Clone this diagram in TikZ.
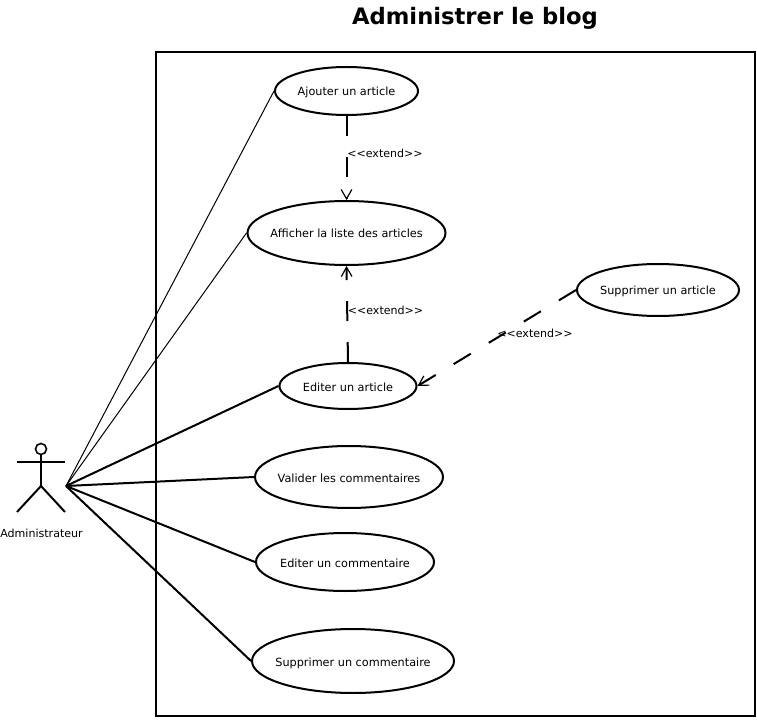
\documentclass[tikz,border=0pt]{standalone}
\usepackage{fontspec}
\setmainfont{DejaVu Sans}
\usetikzlibrary{shapes, arrows.meta, positioning}
\tikzset{
  usecase/.style 2 args={draw, ellipse, line width=1.5pt, inner sep=-10pt, minimum width=#1*0.75pt, minimum height=#2*0.75pt, text height=9pt, text depth=1.5pt, font=\fontsize{8.45}{10}\selectfont},
  assocthin/.style={line width=0.75pt},
  assoc/.style={line width=1.5pt},
  extendline/.style={line width=1.5pt, dash pattern=on 15pt off 15.75pt, -{Straight Barb[length=7pt, width=8pt, line width=0.9pt]}},
  extendlabel/.style={font=\fontsize{8.3}{10}\selectfont, inner sep=0pt},
}
\begin{document}
\begin{tikzpicture}[x=0.75pt, y=-0.75pt]
  \useasboundingbox (0, 0) rectangle (757, 720);
  \fill[white] (0, 0) rectangle (757, 720);

  % Title and system frame
  \node[font=\bfseries\fontsize{17}{20}\selectfont, inner sep=0pt] (title) at (475, 18.5) {Administrer le blog};
  \node[draw, line width=1.5pt, minimum width=599*0.75pt, minimum height=664*0.75pt, inner sep=0pt] (frame) at (455.5, 384) {};

  % Actor
  \node[draw, circle, line width=1.2pt, minimum size=11*0.75pt, inner sep=0pt] (head) at (41, 449) {};
  \coordinate (handl) at (17, 462);
  \coordinate (handr) at (65, 462);
  \coordinate (neck) at (41, 462);
  \coordinate (hip) at (41, 486);
  \coordinate (footl) at (17, 512);
  \coordinate (footr) at (65, 512);
  \coordinate (actor) at (66, 486);
  \draw[assoc] (head) -- (hip);
  \draw[assoc] (handl) -- (handr);
  \draw[assoc] (footl) -- (hip) -- (footr);
  \node[extendlabel] (actorlabel) at (41.5, 533) {Administrateur};

  % Use cases
  \node[usecase={143}{48}] (ajouter) at (346.5, 91) {Ajouter un article};
  \node[usecase={198}{64}] (afficher) at (346.5, 233) {Afficher la liste des articles};
  \node[usecase={137}{46}] (editer) at (348, 386) {Editer un article};
  \node[usecase={162}{52}] (supprimer) at (658, 290) {Supprimer un article};
  \node[usecase={188}{62}] (valider) at (349, 477) {Valider les commentaires};
  \node[usecase={178}{58}] (editercom) at (345, 562) {Editer un commentaire};
  \node[usecase={202}{64}] (supprimercom) at (353, 661) {Supprimer un commentaire};

  % Associations
  \draw[assocthin] (actor) -- (ajouter.west);
  \draw[assocthin] (actor) -- (afficher.west);
  \draw[assoc] (actor) -- (editer.west);
  \draw[assoc] (actor) -- (valider.west);
  \draw[assoc] (actor) -- (editercom.west);
  \draw[assoc] (actor) -- (supprimercom.west);

  % Extend relations
  \draw[extendline] (ajouter.south) -- (afficher.north);
  \draw[extendline] (editer.north) -- (afficher.south);
  \draw[extendline] (supprimer.west) -- (editer.east);
  \node[extendlabel] (ext1) at (385, 153) {<{}<extend>{}>};
  \node[extendlabel] (ext2) at (385.5, 310.5) {<{}<extend>{}>};
  \node[extendlabel] (ext3) at (535, 333.5) {<{}<extend>{}>};
\end{tikzpicture}
\end{document}
